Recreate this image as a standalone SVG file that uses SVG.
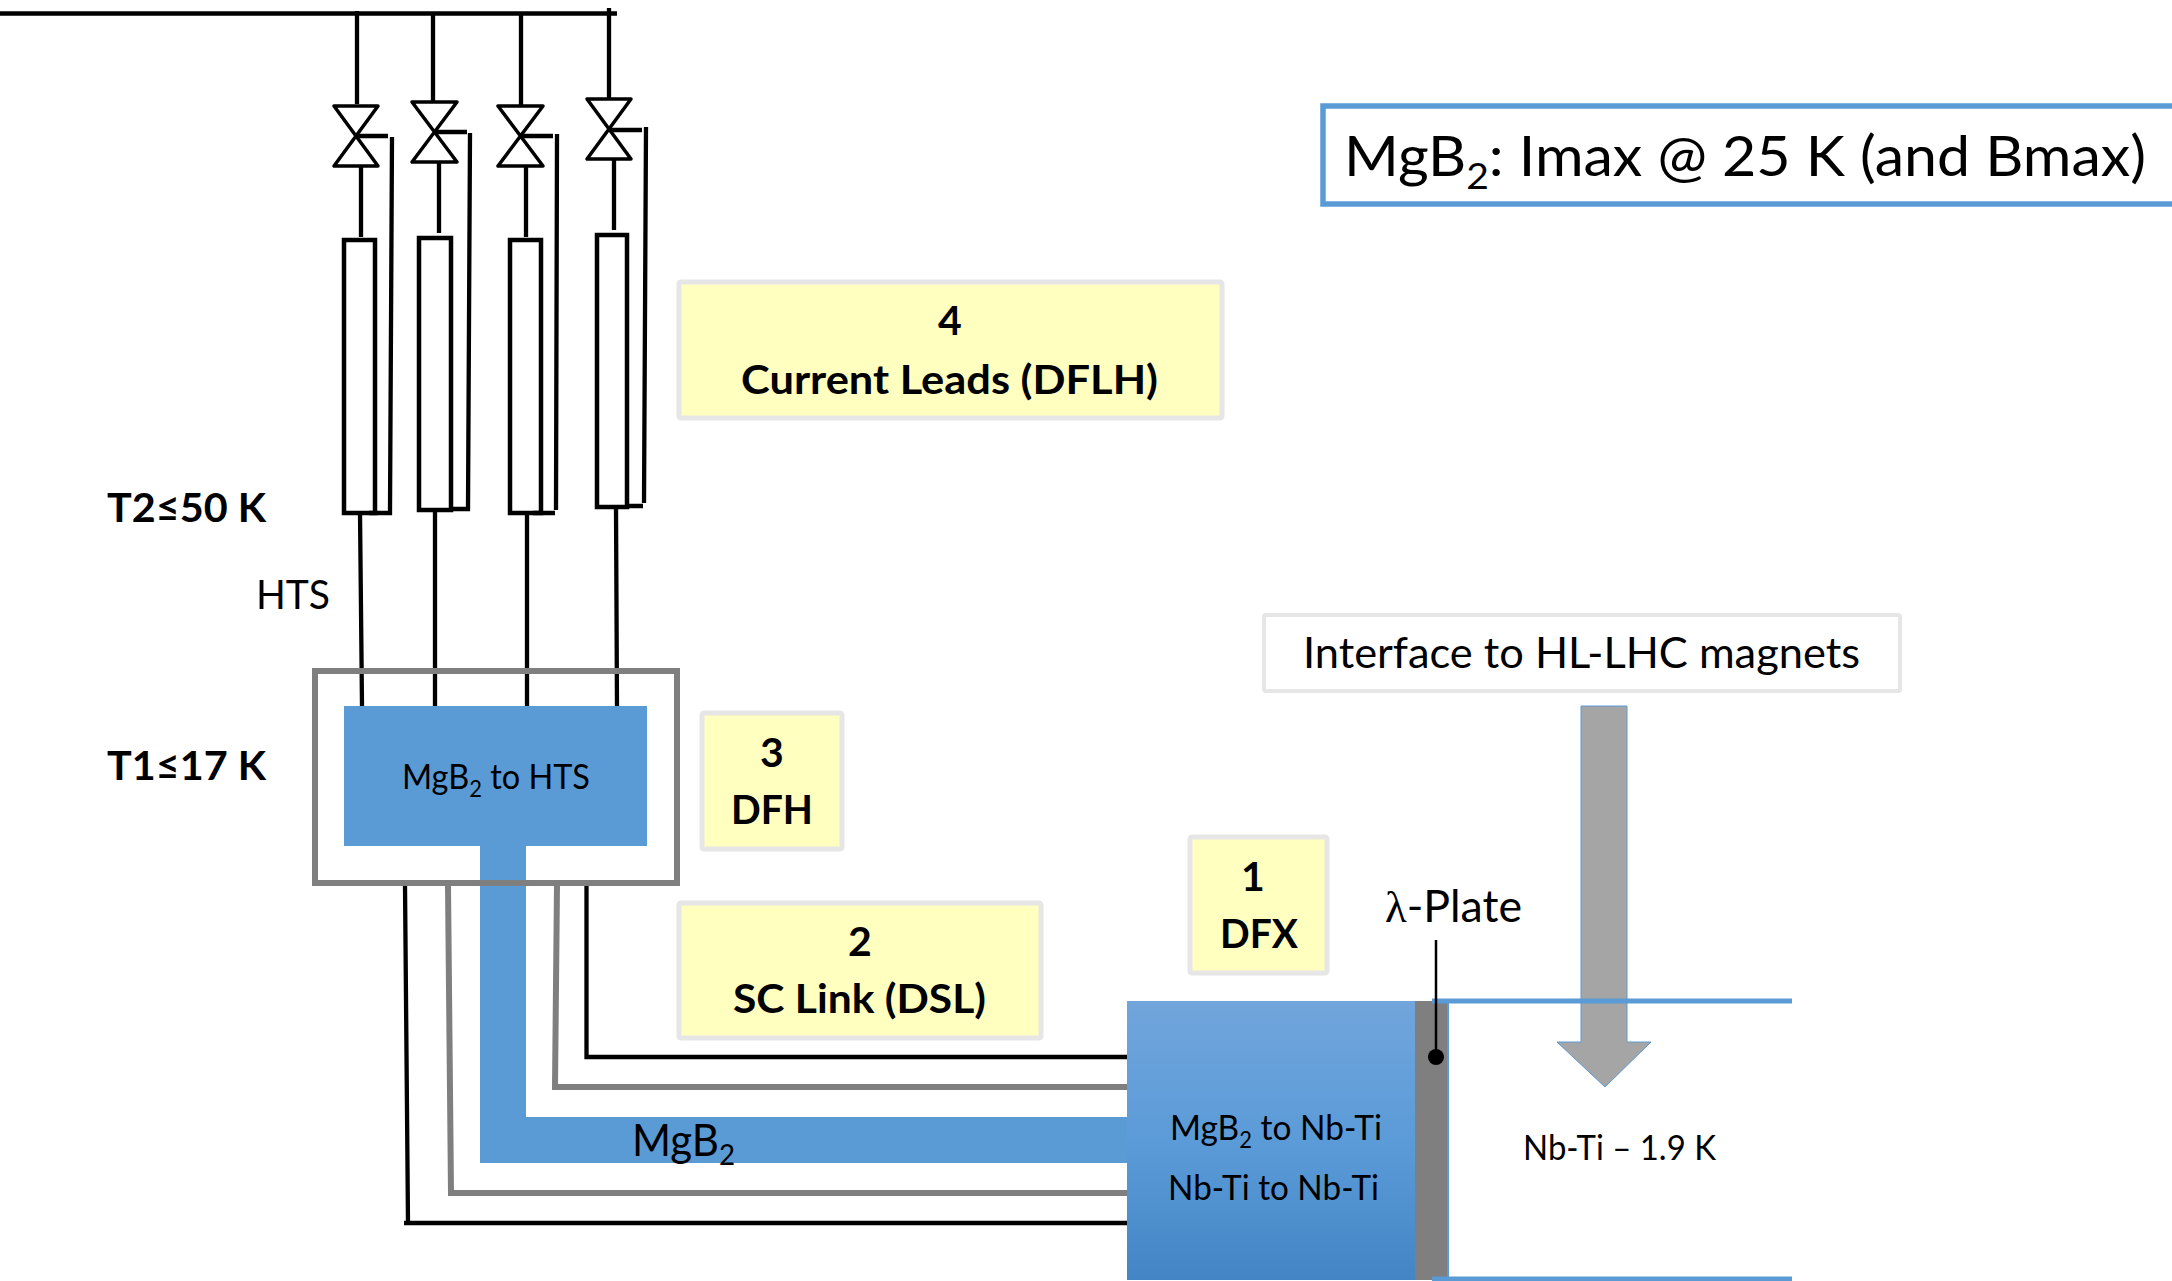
<svg xmlns="http://www.w3.org/2000/svg" width="2172" height="1281" viewBox="0 0 2172 1281">
<defs>
<linearGradient id="g" x1="0" y1="0" x2="0" y2="1"><stop offset="0" stop-color="#71a5db"/><stop offset="0.5" stop-color="#5b9bd8"/><stop offset="1" stop-color="#4385c5"/></linearGradient>
</defs>
<style>
text{font-family:Lato,"Open Sans",sans-serif;fill:#000}
.b{font-weight:700;font-size:41px}
.y{fill:#ffffc0;stroke:#e7e6e6;stroke-width:5}
.k{fill:none;stroke:#000;stroke-width:4.3}
.v{fill:#fff;stroke:#000;stroke-width:3.5;stroke-linejoin:round}
.lead{fill:none;stroke:#000;stroke-width:4.5}
.l{fill:none;stroke:#5b9bd5;stroke-width:5}
.t{font-size:35px}
</style>
<rect width="2172" height="1281" fill="#fff"/>
<g id="connectors">
<path class="k" d="M0 13.5H617M357 11V104M433 14V102M521 14V106M609 8V99"/>
<path class="k" d="M361 167V237M439 162V233M526 166V237M614 160V230"/>
<path class="k" d="M356 136H388M392 137L390 513H369M434 132H467M470 133L468 509H452M520 136H553M557 134L556 510M533 513H555M609 130H642M646 127L644 503M628 506H643"/>
<path class="k" d="M360 513L362 706M435 511V706M527 514V706M616 507L617 706"/>
<path fill="none" stroke="#000" stroke-width="4.3" d="M405 885L408 1223M404 1223H1128M586.500 885V1057H1128"/>
<path fill="none" stroke="#7f7f7f" stroke-width="6" d="M448 885L451 1193H1128M557 885L555 1087H1128"/>
<path fill="none" stroke="#5b9bd5" stroke-width="46" d="M503 840V1140H1128"/>
</g>
<g id="valves">
<path class="v" d="M334 106H378L334 166H378Z"/>
<path class="v" d="M412 102H457L412 162H457Z"/>
<path class="v" d="M498 106H543L498 166H543Z"/>
<path class="v" d="M587 99H631L587 159H631Z"/>
</g>
<g id="leads">
<rect class="lead" x="344" y="240" width="31" height="273"/>
<rect class="lead" x="419" y="238" width="32" height="272"/>
<rect class="lead" x="510" y="240" width="31" height="273"/>
<rect class="lead" x="597" y="235" width="30" height="272"/>
</g>
<g id="dfh-frame"><rect x="315" y="671" width="362" height="212" fill="none" stroke="#7f7f7f" stroke-width="6"/></g>
<g id="mgb2-hts"><rect x="344" y="706" width="303" height="140" fill="#5b9bd5"/><text x="402" y="789" font-size="34" textLength="188" lengthAdjust="spacingAndGlyphs">MgB<tspan font-size="23" dy="8">2</tspan><tspan dy="-8"> to HTS</tspan></text></g>
<g id="dfx"><rect x="1127" y="1001" width="288" height="279" fill="url(#g)"/><rect x="1415" y="1001" width="33" height="279" fill="#7f7f7f"/>
<path fill="none" stroke="#5b9bd5" stroke-width="2" d="M1448 1001V1280"/>
<text x="1170" y="1140" font-size="35" textLength="212" lengthAdjust="spacingAndGlyphs">MgB<tspan font-size="23" dy="8">2</tspan><tspan dy="-8"> to Nb-Ti</tspan></text>
<text x="1168" y="1200" class="t" textLength="211" lengthAdjust="spacingAndGlyphs">Nb-Ti to Nb-Ti</text></g>
<g id="magnet"><path d="M1581 706H1627V1042H1651L1605 1087L1557 1042H1581Z" fill="#a5a5a5" stroke="#5b9bd5" stroke-width="1"/>
<path class="l" d="M1432 1001H1792M1432 1279H1792"/>
<text x="1523" y="1160" class="t" textLength="193" lengthAdjust="spacingAndGlyphs">Nb-Ti – 1.9 K</text></g>
<g id="leader"><path fill="none" stroke="#000" stroke-width="2.500" d="M1436 940V1057"/>
<circle cx="1436" cy="1057" r="8"/></g>
<g id="title"><rect x="1323" y="106" width="860" height="98" fill="#fff" stroke="#5b9bd5" stroke-width="5.500"/><text x="1344" y="176" font-size="56" textLength="802" lengthAdjust="spacingAndGlyphs">MgB<tspan font-size="37" dy="13">2</tspan><tspan dy="-13">: Imax @ 25 K (and Bmax)</tspan></text></g>
<g id="n4"><rect class="y" x="679" y="282" width="543" height="136" rx="2"/><text class="b" x="950" y="335" text-anchor="middle">4</text><text class="b" x="741" y="394" textLength="417" lengthAdjust="spacingAndGlyphs">Current Leads (DFLH)</text></g>
<g id="n3"><rect class="y" x="702" y="713" width="140" height="136" rx="2"/><text class="b" x="772" y="767" text-anchor="middle">3</text><text class="b" x="731" y="824" textLength="82" lengthAdjust="spacingAndGlyphs">DFH</text></g>
<g id="n2"><rect class="y" x="679" y="903" width="362" height="135" rx="2"/><text class="b" x="860" y="956" text-anchor="middle">2</text><text class="b" x="733" y="1013" textLength="253" lengthAdjust="spacingAndGlyphs">SC Link (DSL)</text></g>
<g id="n1"><rect class="y" x="1190" y="837" width="137" height="136" rx="2"/><text class="b" x="1253" y="891" text-anchor="middle">1</text><text class="b" x="1220" y="948" textLength="78" lengthAdjust="spacingAndGlyphs">DFX</text></g>
<g id="interface"><rect x="1264" y="615" width="636" height="76" fill="#fff" stroke="#e7e6e6" stroke-width="4" rx="2"/><text x="1303" y="668" font-size="42" textLength="557" lengthAdjust="spacingAndGlyphs">Interface to HL-LHC magnets</text></g>
<g id="labels">
<text class="b" x="107" y="522" textLength="159" lengthAdjust="spacingAndGlyphs">T2≤50 K</text>
<text class="b" x="107" y="780" textLength="159" lengthAdjust="spacingAndGlyphs">T1≤17 K</text>
<text x="256" y="609" font-size="40" textLength="74" lengthAdjust="spacingAndGlyphs">HTS</text>
<text x="1385" y="922" font-size="44" textLength="137" lengthAdjust="spacingAndGlyphs"><tspan font-family="Liberation Serif">λ</tspan>-Plate</text>
<text x="632" y="1156" font-size="44" textLength="103" lengthAdjust="spacingAndGlyphs">MgB<tspan font-size="29" dy="9">2</tspan></text>
</g>
</svg>
